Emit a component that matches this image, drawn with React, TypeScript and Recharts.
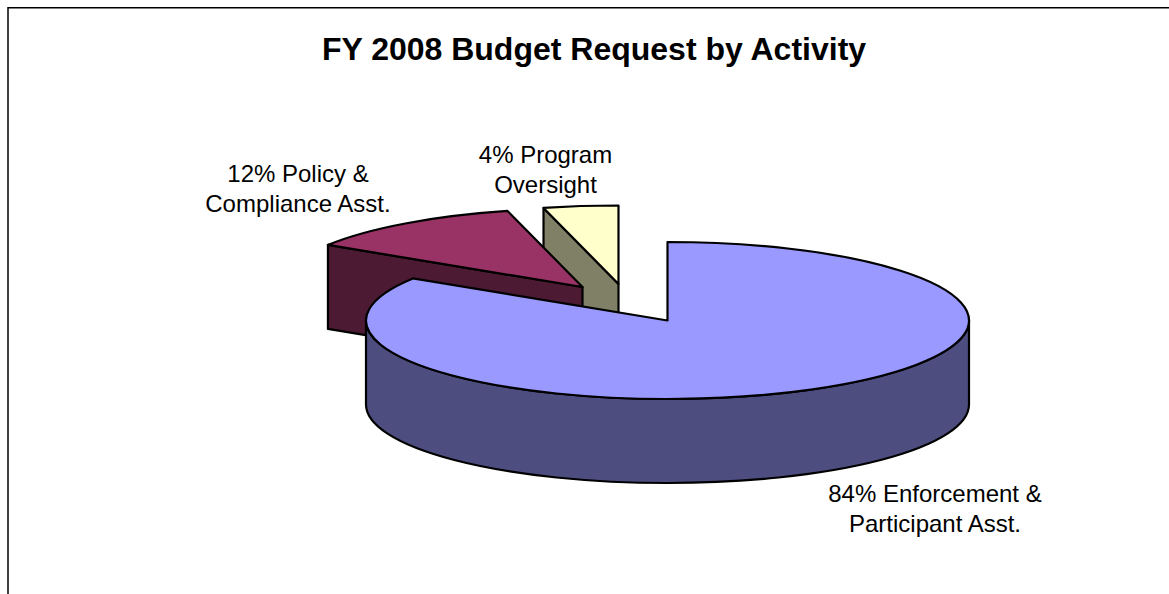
import { Pie, PieChart } from "recharts";

const activities = ["Program Oversight", "Policy & Compliance Asst.", "Enforcement & Participant Asst."];
const shares = [4, 12, 84];
const topColors = ["#FFFFCC", "#993366", "#9999FF"];
const sideColors = ["#808066", "#4D1A33", "#4D4D80"];
const labelLines = [
  ["4% Program", "Oversight"],
  ["12% Policy &", "Compliance Asst."],
  ["84% Enforcement &", "Participant Asst."],
];

const budget = activities.map((name, i) => ({
  name,
  value: shares[i],
  top: topColors[i],
  side: sideColors[i],
  lines: labelLines[i],
}));

const WIDTH = 1169;
const HEIGHT = 594;
const PIE_X = 667.5;
const PIE_Y = 320.5;
const RADIUS = 301.5;
const TILT = 78.5 / 301.5; // vertical squash of the pie disc
const DEPTH = 84;
const LINE_GAP = 30;

// how far each slice is pulled out of the pie
const explode = [
  { dx: -49, dy: -36.5 },
  { dx: -85, dy: -33.5 },
  { dx: 0, dy: 0 },
];

const labelSpots = [
  { x: 545.5, y: 162.5 },
  { x: 298, y: 181.5 },
  { x: 935, y: 501.5 },
];

const rad = (deg: number) => (deg * Math.PI) / 180;

// 3D slice: squashed sector on top, with the walls that face the viewer below it
const Slice3D = (props: any) => {
  const { cx, cy, outerRadius, startAngle, endAngle, payload, index } = props;
  const offset = explode[index] ?? explode[activities.indexOf(payload?.name)];
  const x0 = cx + offset.dx;
  const y0 = cy + offset.dy;
  const rx = outerRadius;
  const ry = outerRadius * TILT;
  const at = (a: number) => ({
    x: x0 + rx * Math.cos(rad(a)),
    y: y0 - ry * Math.sin(rad(a)),
  });
  const a0 = Math.min(startAngle, endAngle);
  const a1 = Math.max(startAngle, endAngle);
  const p0 = at(a0);
  const p1 = at(a1);
  const large = a1 - a0 > 180 ? 1 : 0;
  const stroke = { stroke: "#000", strokeWidth: 2.2, strokeLinejoin: "round" as const };

  const face = (p: { x: number; y: number }) =>
    `M${x0},${y0}L${p.x},${p.y}L${p.x},${p.y + DEPTH}L${x0},${y0 + DEPTH}Z`;

  const wallFrom = Math.max(a0, 180);
  const wallTo = Math.min(a1, 360);
  let wall = null;
  if (wallFrom < wallTo) {
    const w0 = at(wallFrom);
    const w1 = at(wallTo);
    wall =
      `M${w0.x},${w0.y}A${rx},${ry} 0 0 0 ${w1.x},${w1.y}` +
      `L${w1.x},${w1.y + DEPTH}A${rx},${ry} 0 0 1 ${w0.x},${w0.y + DEPTH}Z`;
  }

  return (
    <g>
      {Math.sin(rad(a0 - 90)) < -0.001 && <path d={face(p0)} fill={payload.side} {...stroke} />}
      {Math.sin(rad(a1 + 90)) < -0.001 && <path d={face(p1)} fill={payload.side} {...stroke} />}
      {wall && <path d={wall} fill={payload.side} {...stroke} />}
      <path
        d={`M${x0},${y0}L${p0.x},${p0.y}A${rx},${ry} 0 ${large} 0 ${p1.x},${p1.y}Z`}
        fill={payload.top}
        {...stroke}
      />
    </g>
  );
};

const SliceLabel = (props: any) => {
  const spot = labelSpots[props.index];
  const lines = budget[props.index].lines;
  return (
    <text textAnchor="middle" fontSize={24} fontFamily="Liberation Sans, Arial, sans-serif" fill="#000">
      {lines.map((line, i) => (
        <tspan key={line} x={spot.x} y={spot.y + i * LINE_GAP}>
          {line}
        </tspan>
      ))}
    </text>
  );
};

const App = () => {
  return (
    <div style={{ position: "absolute", left: 0, top: 0, width: WIDTH, height: HEIGHT, background: "#fff" }}>
      <PieChart width={WIDTH} height={HEIGHT} margin={{ top: 0, right: 0, bottom: 0, left: 0 }}>
        <path d={`M8,${HEIGHT}V7.7H${WIDTH}`} fill="none" stroke="#000" strokeWidth={1.5} />
        <text
          x={594}
          y={60}
          textAnchor="middle"
          fontSize={32}
          fontWeight="bold"
          fontFamily="Liberation Sans, Arial, sans-serif"
          fill="#000"
        >
          FY 2008 Budget Request by Activity
        </text>
        <Pie
          data={budget}
          dataKey="value"
          nameKey="name"
          cx={PIE_X}
          cy={PIE_Y}
          outerRadius={RADIUS}
          startAngle={90}
          endAngle={450}
          shape={Slice3D}
          label={SliceLabel}
          labelLine={false}
          isAnimationActive={false}
        />
      </PieChart>
    </div>
  );
};

export default App;
